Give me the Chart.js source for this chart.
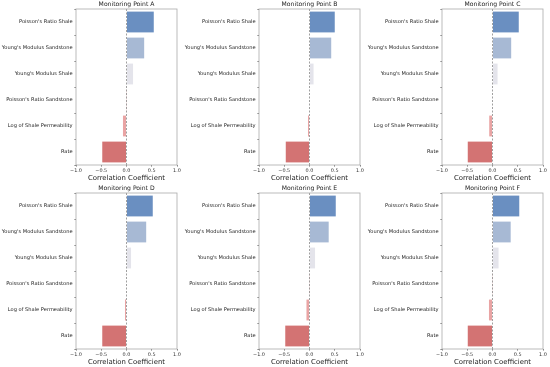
<!DOCTYPE html>
<html>
<head>
<meta charset="utf-8">
<script src="https://cdn.jsdelivr.net/npm/chart.js@4.4.1/dist/chart.umd.min.js"></script>
<style>
  html, body { margin: 0; padding: 0; background: #fff; }
  #wrap { position: relative; width: 550px; height: 367px; }
  .panel { position: absolute; width: 183px; height: 183px; }
</style>
</head>
<body>
<div id="wrap">
  <div class="panel" style="left:0;top:0"><canvas id="chartA"></canvas></div>
  <div class="panel" style="left:183px;top:0"><canvas id="chartB"></canvas></div>
  <div class="panel" style="left:366px;top:0"><canvas id="chartC"></canvas></div>
  <div class="panel" style="left:0;top:184px"><canvas id="chartD"></canvas></div>
  <div class="panel" style="left:183px;top:184px"><canvas id="chartE"></canvas></div>
  <div class="panel" style="left:366px;top:184px"><canvas id="chartF"></canvas></div>
</div>
<script>
// Data
const features = [
    "Poisson's Ratio Shale",
    "Young's Modulus Sandstone",
    "Young's Modulus Shale",
    "Poisson's Ratio Sandstone",
    "Log of Shale Permeability",
    "Rate"
];
const pointA = [0.54, 0.35, 0.13, 0.003, -0.07, -0.48];
const pointB = [0.50, 0.43, 0.08, 0.01, -0.03, -0.47];
const pointC = [0.52, 0.37, 0.10, -0.01, -0.065, -0.49];
const pointD = [0.52, 0.39, 0.09, 0.01, -0.03, -0.48];
const pointE = [0.52, 0.38, 0.11, 0.003, -0.06, -0.48];
const pointF = [0.53, 0.36, 0.12, 0.003, -0.07, -0.49];
const xTicks = [-1.0, -0.5, 0.0, 0.5, 1.0];

const barColors = ['#6a8fc1', '#a7b9d4', '#e4e4eb', '#eec9c9', '#e9a4a4', '#d37373'];
const font = "'DejaVu Sans', sans-serif";

// frame, dashed zero line and panel title centred over the plot
const framePlugin = {
    id: 'frame',
    afterDatasetsDraw(chart) {
        const { ctx, chartArea: a, scales } = chart;
        const x0 = scales.x.getPixelForValue(0);
        ctx.save();
        ctx.strokeStyle = '#888';
        ctx.lineWidth = 0.8;
        ctx.setLineDash([2, 1.5]);
        ctx.beginPath();
        ctx.moveTo(x0, a.top);
        ctx.lineTo(x0, a.bottom);
        ctx.stroke();
        ctx.setLineDash([]);
        ctx.strokeStyle = '#aaa';
        ctx.lineWidth = 0.8;
        ctx.strokeRect(a.left, a.top, a.right - a.left, a.bottom - a.top);

        ctx.fillStyle = '#222';
        ctx.font = "6.1px " + font;
        ctx.textAlign = 'center';
        ctx.textBaseline = 'middle';
        ctx.fillText(chart.options.plugins.frame.title, (a.left + a.right) / 2, a.top - 4.6);
        ctx.restore();
    }
};

const makeChart = (id, title, values) => {
    const ctx = document.getElementById(id);
    if (!ctx) return;

    new Chart(ctx, {
        type: 'bar',
        data: {
            labels: features,
            datasets: [{
                data: values,
                backgroundColor: barColors,
                borderWidth: 0,
                categoryPercentage: 0.8,
                barPercentage: 1.0
            }]
        },
        options: {
            indexAxis: 'y',
            responsive: true,
            maintainAspectRatio: false,
            animation: false,
            layout: { padding: { left: 0, right: 6, top: 9, bottom: 0 } },
            scales: {
                x: {
                    min: -1,
                    max: 1,
                    afterBuildTicks: (scale) => {
                        scale.ticks = xTicks.map(v => ({ value: v }));
                    },
                    afterFit: (scale) => { scale.height = 18; },
                    grid: { drawOnChartArea: false, drawTicks: true, tickLength: 1.6, tickColor: '#333', tickWidth: 0.6 },
                    border: { display: false },
                    ticks: {
                        padding: 1.2,
                        color: '#333',
                        font: { family: font, size: 4.9 },
                        callback: (v) => (v < 0 ? '\u2212' : '') + Math.abs(v).toFixed(1)
                    },
                    title: {
                        display: true,
                        text: 'Correlation Coefficient',
                        color: '#222',
                        font: { family: font, size: 6.9 },
                        padding: { top: 0, bottom: 0.8 }
                    }
                },
                y: {
                    afterFit: (scale) => { scale.width = 76; },
                    grid: { drawOnChartArea: false, drawTicks: true, tickLength: 1.6, tickColor: '#333', tickWidth: 0.6 },
                    border: { display: false },
                    ticks: {
                        padding: 1.8,
                        color: '#222',
                        autoSkip: false,
                        font: { family: font, size: 5.1 }
                    }
                }
            },
            plugins: {
                legend: { display: false },
                tooltip: { enabled: false },
                title: { display: false },
                frame: { title: title }
            }
        },
        plugins: [framePlugin]
    });
};

document.addEventListener('DOMContentLoaded', () => {
    makeChart('chartA', 'Monitoring Point A', pointA);
    makeChart('chartB', 'Monitoring Point B', pointB);
    makeChart('chartC', 'Monitoring Point C', pointC);
    makeChart('chartD', 'Monitoring Point D', pointD);
    makeChart('chartE', 'Monitoring Point E', pointE);
    makeChart('chartF', 'Monitoring Point F', pointF);
});
</script>
</body>
</html>
